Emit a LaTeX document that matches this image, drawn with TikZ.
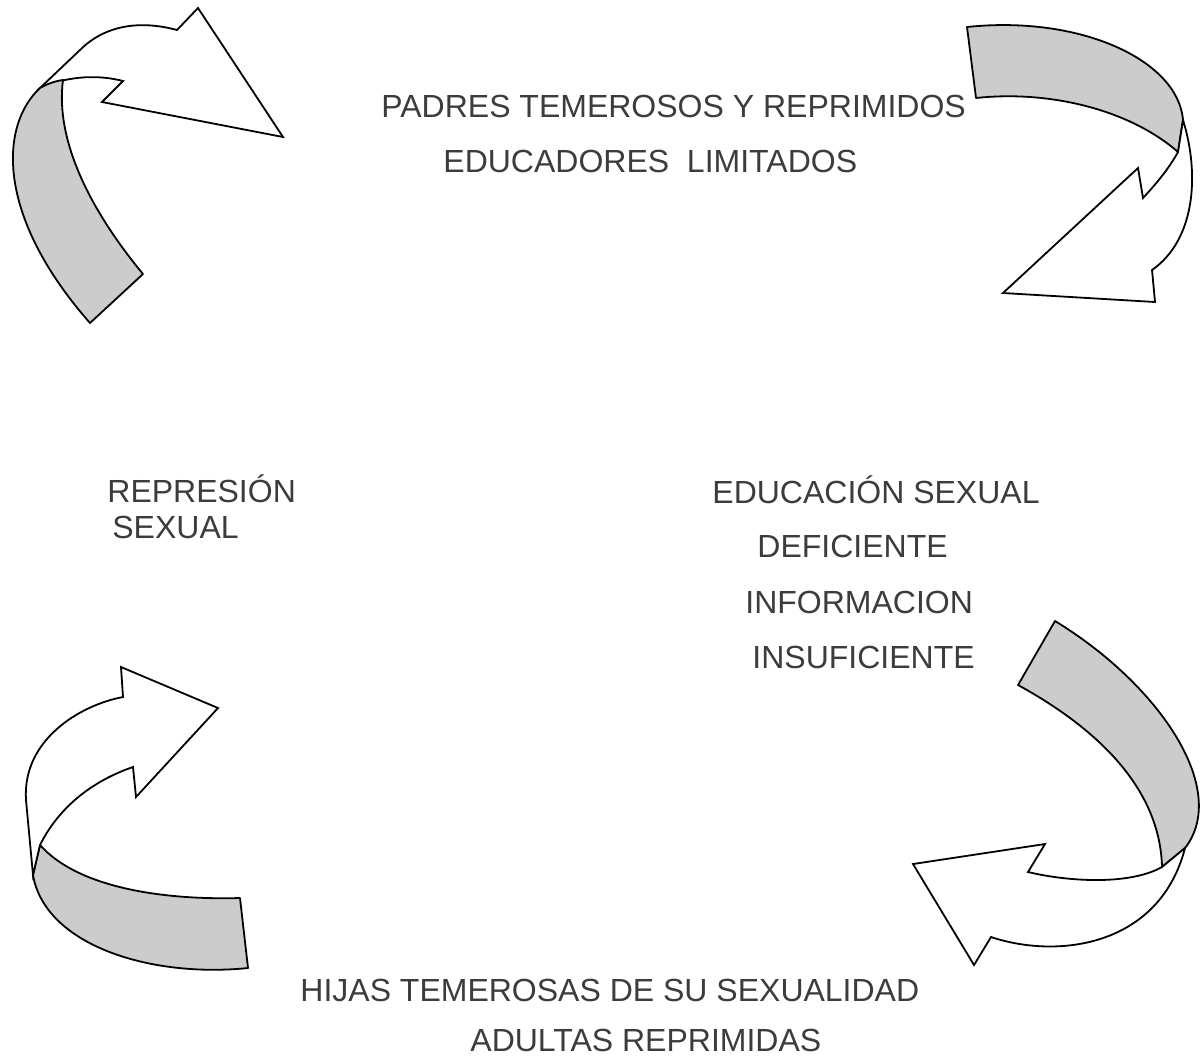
\documentclass[tikz,border=0pt]{standalone}
\usepackage{fontspec}
\setmainfont{Liberation Sans}
\usepackage{xcolor}
\usepackage{tikz}

\definecolor{bandgray}{RGB}{204,204,204}
\definecolor{textgray}{RGB}{60,60,60}

\tikzset{
  band/.style={draw=black, fill=bandgray, line width=0.9pt, line join=round},
  ribbon/.style={draw=black, fill=white, line width=0.9pt, line join=miter},
  cycletext/.style={font=\fontsize{16}{19}\selectfont, text=textgray, anchor=base west, inner sep=0pt}
}

\begin{document}
\begin{tikzpicture}[x=0.5pt, y=-0.5pt]
    \useasboundingbox (0,0) rectangle (1202,1057);

    % Top left arrow
    \draw[ribbon] (40,88) -- (80,50) .. controls (105,25) and (140,20) .. (177,30)
      -- (198,8) -- (283,137) -- (102,102) -- (123,81)
      .. controls (100,75) and (70,75) .. (40,88) -- cycle;
    \draw[band] (40,88) .. controls (0,125) and (-5,215) .. (90,323)
      -- (143,274) .. controls (90,210) and (55,140) .. (63,80)
      .. controls (55,81) and (47,84) .. (40,88) -- cycle;

    % Top right arrow
    \draw[band] (967,27) .. controls (1080,15) and (1178,60) .. (1183,120)
      -- (1178,152) .. controls (1130,110) and (1050,90) .. (976,98) -- cycle;
    \draw[ribbon] (1178,152) .. controls (1168,170) and (1155,185) .. (1143,198)
      -- (1138,168) -- (1003,293) -- (1155,302) -- (1152,270)
      .. controls (1195,240) and (1200,175) .. (1183,120) -- cycle;

    % Bottom left arrow
    \draw[band] (40,845) .. controls (80,890) and (170,900) .. (240,898)
      -- (248,968) .. controls (150,978) and (45,945) .. (33,875) -- cycle;
    \draw[ribbon] (33,875) -- (26,800) .. controls (22,740) and (80,705) .. (123,697)
      -- (121,667) -- (218,708) -- (136,797) -- (133,767)
      .. controls (95,780) and (60,805) .. (40,845) -- cycle;

    % Bottom right arrow
    \draw[band] (1055,621) .. controls (1160,685) and (1230,790) .. (1185,848)
      -- (1162,867) .. controls (1160,790) and (1100,730) .. (1018,685) -- cycle;
    \draw[ribbon] (1162,867) .. controls (1130,885) and (1070,882) .. (1028,872)
      -- (1045,844) -- (913,864) -- (974,965) -- (991,937)
      .. controls (1060,960) and (1160,945) .. (1185,848) -- cycle;

    % Texts
    \node[cycletext] (padres) at (381,117) {PADRES TEMEROSOS Y REPRIMIDOS};
    \node[cycletext] (educadores) at (443,172) {EDUCADORES\ \ LIMITADOS};
    \node[cycletext] (represion) at (107,502) {REPRESIÓN};
    \node[cycletext] (sexual) at (112,538) {SEXUAL};
    \node[cycletext] (educacion) at (712,503) {EDUCACIÓN SEXUAL};
    \node[cycletext] (deficiente) at (757,557) {DEFICIENTE};
    \node[cycletext] (informacion) at (745,613) {INFORMACION};
    \node[cycletext] (insuficiente) at (752,668) {INSUFICIENTE};
    \node[cycletext] (hijas) at (300,1001) {HIJAS TEMEROSAS DE SU SEXUALIDAD};
    \node[cycletext] (adultas) at (470,1051) {ADULTAS REPRIMIDAS};
\end{tikzpicture}
\end{document}
